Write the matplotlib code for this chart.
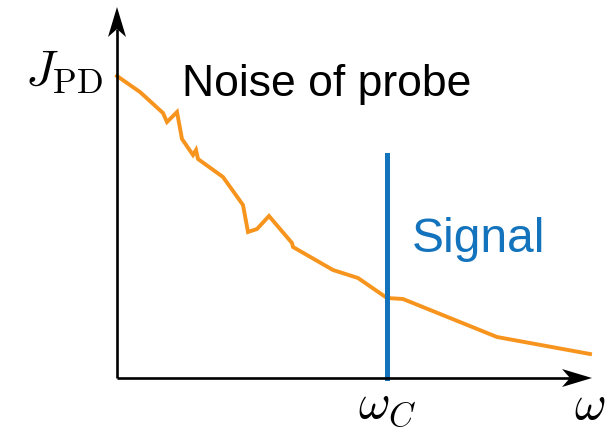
import matplotlib
matplotlib.use("Agg")
import matplotlib.pyplot as plt
from matplotlib.patches import Polygon

plt.rcParams['mathtext.fontset'] = 'cm'

# Noise spectrum of the probe (arbitrary units, origin at axes corner)
omega = [0, 23, 46, 50, 60, 65, 76, 79, 81, 106, 126, 131, 140, 152, 175, 176,
         216, 241, 270, 286, 380, 473]
noise = [302, 286, 265, 256, 266, 239, 223, 228, 219, 201, 173, 146, 149, 162,
         135, 131, 108, 100, 80, 79, 41, 24]

omega_c = 270
signal_height = 223

x_axis_end = 475
y_axis_end = 371

orange = '#F7941D'
blue = '#1373BC'

fig = plt.figure(figsize=(6.05, 4.3), dpi=100)
ax = fig.add_axes([0, 0, 1, 1])
ax.set_xlim(-117, 488)
ax.set_ylim(-52, 378)
ax.axis('off')

ax.plot(omega, noise, color=orange, lw=2.8, solid_joinstyle='miter', zorder=2)
ax.plot([omega_c, omega_c], [0, signal_height], color=blue, lw=3.6, zorder=3)

# axes with stealth arrowheads
L, W, N = 30, 9, 8   # head length, half width, notch depth
ax.plot([0, x_axis_end - L + N], [0, 0], color='black', lw=1.9, zorder=4,
        solid_capstyle='butt')
ax.plot([0, 0], [0, y_axis_end - L + N], color='black', lw=1.9, zorder=4,
        solid_capstyle='butt')
tx, ty = x_axis_end, y_axis_end
ax.add_patch(Polygon([(tx, 0), (tx - L, W), (tx - L + N, 0), (tx - L, -W)],
                     closed=True, color='black', lw=0, zorder=5))
ax.add_patch(Polygon([(0, ty), (W, ty - L), (0, ty - L + N), (-W, ty - L)],
                     closed=True, color='black', lw=0, zorder=5))

ax.text(65, 282, 'Noise of probe', fontsize=32, family='Liberation Sans',
        ha='left', va='baseline', color='black')
ax.text(295, 126, 'Signal', fontsize=34.5, family='Liberation Sans',
        ha='left', va='baseline', color=blue)

ax.text(-14, 306, r'$J_{\mathrm{PD}}$', fontsize=36, ha='right', va='center')
ax.text(omega_c, -27, r'$\omega_C$', fontsize=35, ha='center', va='center')
ax.text(x_axis_end - 2, -27, r'$\omega$', fontsize=35, ha='center', va='center')

fig.savefig('out.png', dpi=100)
